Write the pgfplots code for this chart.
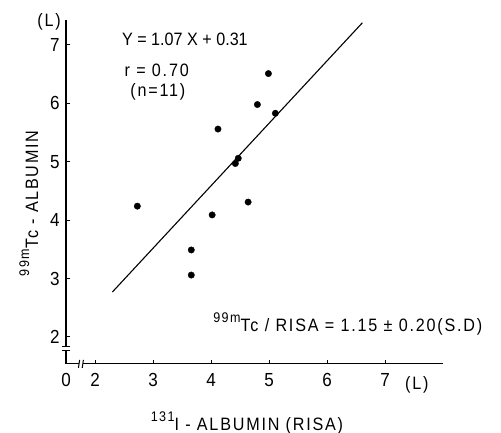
\documentclass[border=0pt]{standalone}
\usepackage{fontspec}
\setmainfont[FakeStretch=0.9]{Liberation Sans}
\newfontfamily\wide[FakeStretch=0.9, LetterSpace=10]{Liberation Sans}
\newcommand{\supx}[1]{\raisebox{0.5em}{\fontsize{14}{16}\selectfont #1}}
\usepackage{pgfplots}
\pgfplotsset{compat=1.18}
\begin{document}
\begin{tikzpicture}
\begin{axis}[
  x=58bp, y=58.4bp,
  xmin=1.5, xmax=8.0, ymin=1.54, ymax=7.43,
  axis x line*=bottom, axis y line*=left,
  axis line style={line width=1.3bp, -},
  xtick={1.5,2,3,4,5,6,7}, xticklabels={0,2,3,4,5,6,7},
  ytick={2,3,4,5,6,7},
  tick align=inside, major tick length=4bp,
  tick style={line width=1bp, black},
  /pgf/number format/assume math mode=true,
  ticklabel style={font=\fontsize{19}{22}\selectfont},
  xticklabel style={yshift=-6bp},
  yticklabel style={xshift=-3bp},
  clip=false,
]
\addplot[only marks, mark=*, mark size=3.2bp, black] coordinates {
 (4.99,6.51) (4.80,5.98) (5.11,5.83) (4.12,5.56) (4.47,5.06) (4.42,4.97)
 (4.64,4.31) (2.73,4.24) (4.02,4.09) (3.66,3.49) (3.66,3.06)};
\addplot[black, line width=1.1bp] coordinates {(2.30,2.77) (6.61,7.38)};

% axis breaks
\fill[white] ([xshift=-3bp]axis cs:1.5,1.77) rectangle ([xshift=3bp]axis cs:1.5,1.84);
\draw[line width=1bp] ([xshift=-4bp]axis cs:1.5,1.77) -- ([xshift=4bp]axis cs:1.5,1.77);
\draw[line width=1bp] ([xshift=-4bp]axis cs:1.5,1.84) -- ([xshift=4bp]axis cs:1.5,1.84);
\fill[white] ([yshift=-3bp]axis cs:1.725,1.54) rectangle ([yshift=3bp]axis cs:1.79,1.54);
\draw[line width=1bp] ([yshift=-4bp]axis cs:1.715,1.54) -- ([yshift=4bp]axis cs:1.735,1.54);
\draw[line width=1bp] ([yshift=-4bp]axis cs:1.78,1.54) -- ([yshift=4bp]axis cs:1.80,1.54);

\node[font=\fontsize{18}{21}\selectfont] at (axis cs:3.55,7.09) {Y = 1.07 X + 0.31};
\node[font=\wide\fontsize{18}{21}\selectfont, anchor=west] at (axis cs:2.45,6.57) {r = 0.70};
\node[font=\wide\fontsize{18}{21}\selectfont, anchor=west] at (axis cs:2.55,6.20) {(n=11)};
\node[font=\wide\fontsize{18}{21}\selectfont, anchor=west] at (axis cs:3.98,2.22) {\supx{99m}Tc / RISA = 1.15 ± 0.20(S.D)};
\node[font=\wide\fontsize{18}{21}\selectfont] at (axis cs:1.207,7.39) {(L)};
\node[font=\wide\fontsize{18}{21}\selectfont] at (axis cs:7.55,1.18) {(L)};
\node[font=\wide\fontsize{18}{21}\selectfont] at (axis cs:4.62,0.53) {\supx{131}I - ALBUMIN (RISA)};
\node[font=\wide\fontsize{18}{21}\selectfont, rotate=90] at (axis cs:0.86,4.29) {\supx{99m}Tc - ALBUMIN};

\coordinate (bl) at (axis cs:0.362,0.356);
\coordinate (tr) at (axis cs:9.0,7.77);
\end{axis}
\pgfresetboundingbox
\path (bl) rectangle (tr);
\end{tikzpicture}
\end{document}
